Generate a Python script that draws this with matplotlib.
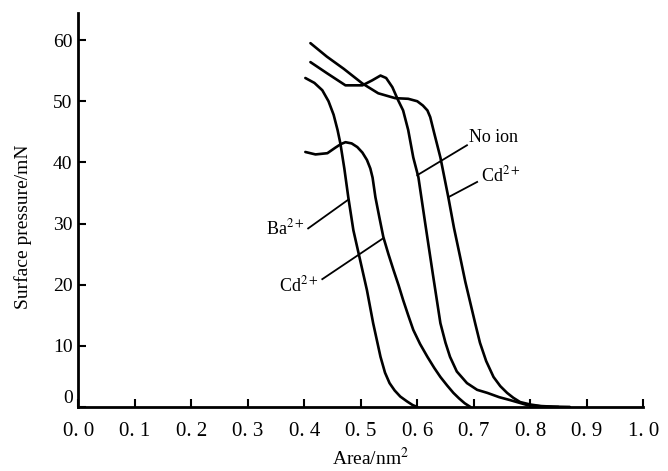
import matplotlib
matplotlib.use('Agg')
from matplotlib import pyplot as plt

plt.rcParams['font.family'] = ['Liberation Serif', 'DejaVu Serif']
plt.rcParams['mathtext.fontset'] = 'stix'

# Ba2+ subphase
ba_area = [0.402, 0.418, 0.432, 0.443, 0.452, 0.459, 0.464, 0.471, 0.478, 0.487,
           0.499, 0.511, 0.522, 0.535, 0.543, 0.551, 0.560, 0.570, 0.582, 0.592, 0.600]
ba_pres = [53.8, 53.0, 51.8, 50.0, 47.8, 45.3, 43.1, 39.0, 34.3, 28.9,
           24.0, 19.1, 13.7, 8.2, 5.6, 3.9, 2.7, 1.7, 0.9, 0.3, 0.0]

# Cd2+ (lower curve)
cd1_area = [0.402, 0.420, 0.441, 0.455, 0.465, 0.473, 0.484, 0.494, 0.503, 0.511,
            0.517, 0.521, 0.526, 0.533, 0.540, 0.549, 0.558, 0.567, 0.575, 0.584,
            0.593, 0.605, 0.618, 0.630, 0.641, 0.653, 0.664, 0.674, 0.684, 0.694]
cd1_pres = [41.7, 41.3, 41.5, 42.4, 43.0, 43.3, 43.1, 42.5, 41.6, 40.4,
            39.0, 37.5, 34.3, 31.0, 27.8, 25.0, 22.4, 19.9, 17.5, 15.0,
            12.6, 10.3, 8.2, 6.4, 4.9, 3.5, 2.3, 1.4, 0.6, 0.0]

# no ion
no_area = [0.411, 0.440, 0.473, 0.503, 0.520, 0.535, 0.545, 0.556, 0.566, 0.575,
           0.584, 0.593, 0.602, 0.614, 0.628, 0.641, 0.650, 0.658, 0.670, 0.688,
           0.706, 0.724, 0.745, 0.765, 0.795, 0.820, 0.850]
no_pres = [56.4, 54.6, 52.6, 52.6, 53.4, 54.2, 53.8, 52.3, 50.2, 48.5,
           45.3, 40.8, 37.6, 30.1, 21.5, 13.7, 10.5, 8.2, 5.8, 3.9,
           2.8, 2.3, 1.6, 1.1, 0.3, 0.1, 0.0]

# Cd2+ (right curve)
cd2_area = [0.411, 0.440, 0.470, 0.503, 0.531, 0.561, 0.584, 0.600, 0.610, 0.618,
            0.623, 0.630, 0.641, 0.655, 0.665, 0.676, 0.685, 0.694, 0.703, 0.711,
            0.722, 0.735, 0.747, 0.759, 0.770, 0.782, 0.800, 0.818, 0.840, 0.870]
cd2_pres = [59.5, 57.3, 55.3, 52.9, 51.3, 50.5, 50.4, 50.0, 49.3, 48.5,
            47.4, 44.8, 40.8, 34.3, 29.3, 24.5, 20.5, 17.0, 13.5, 10.5,
            7.5, 4.9, 3.4, 2.3, 1.5, 0.8, 0.4, 0.15, 0.05, 0.0]

x_ticks = [0.0, 0.1, 0.2, 0.3, 0.4, 0.5, 0.6, 0.7, 0.8, 0.9, 1.0]
x_labels = ['0. 0', '0. 1', '0. 2', '0. 3', '0. 4', '0. 5', '0. 6', '0. 7', '0. 8', '0. 9', '1. 0']
y_ticks = [0, 10, 20, 30, 40, 50, 60]

# label text, text position, leader start, leader end on curve
labels = [
    (r'Ba$^{2+}$', (0.400, 29.2), (0.407, 29.2), (0.478, 33.9), 'right'),
    (r'Cd$^{2+}$', (0.425, 19.9), (0.432, 20.9), (0.540, 27.6), 'right'),
    ('No ion', (0.692, 44.0), (0.688, 42.8), (0.600, 37.9), 'left'),
    (r'Cd$^{2+}$', (0.712, 37.8), (0.706, 36.8), (0.655, 34.3), 'left'),
]

fig = plt.figure(figsize=(6.68, 4.71), dpi=100)
ax = fig.add_axes([0.117, 0.136, 0.846, 0.836])

for xs, ys in [(ba_area, ba_pres), (cd1_area, cd1_pres), (no_area, no_pres), (cd2_area, cd2_pres)]:
    ax.plot(xs, ys, color='black', lw=1.9, solid_joinstyle='round', solid_capstyle='round')

for txt, tpos, p0, p1, ha in labels:
    ax.plot([p0[0], p1[0]], [p0[1], p1[1]], color='black', lw=1.3)
    ax.text(tpos[0], tpos[1], txt, ha=ha, va='center', fontsize=13)

ax.set_xlim(0, 1.0)
ax.set_ylim(0, 64.4)
ax.set_xticks(x_ticks)
ax.set_xticklabels(x_labels, fontsize=15)
ax.set_yticks(y_ticks)
ax.set_yticklabels([str(v) for v in y_ticks], fontsize=14)
ax.tick_params(direction='in', length=6, width=1.5)
ax.tick_params(axis='x', pad=11)
ax.tick_params(axis='y', pad=4)
# the zero label sits a little above the axis line in the original
ax.get_yticklabels()[0].set_va('bottom')

for s in ['top', 'right']:
    ax.spines[s].set_visible(False)
for s in ['left', 'bottom']:
    ax.spines[s].set_linewidth(2)

ax.set_xlabel('Area/nm$^2$', fontsize=14)
ax.xaxis.set_label_coords(0.517, -0.102)
ax.set_ylabel('Surface pressure/mN', fontsize=14)
ax.yaxis.set_label_coords(-0.081, 0.457)

fig.savefig('out.png', dpi=100)
